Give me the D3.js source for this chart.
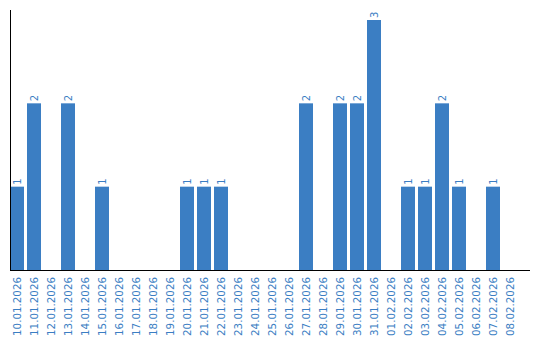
<!DOCTYPE html>
<html><head><meta charset="utf-8">
<script src="https://cdn.jsdelivr.net/npm/d3@7"></script>
<style>body{margin:0;background:#fff}svg{display:block}</style>
</head><body><svg id="c" width="540" height="340"></svg>
<script>
const categories = ["10.01.2026","11.01.2026","12.01.2026","13.01.2026","14.01.2026","15.01.2026","16.01.2026","17.01.2026","18.01.2026","19.01.2026","20.01.2026","21.01.2026","22.01.2026","23.01.2026","24.01.2026","25.01.2026","26.01.2026","27.01.2026","28.01.2026","29.01.2026","30.01.2026","31.01.2026","01.02.2026","02.02.2026","03.02.2026","04.02.2026","05.02.2026","06.02.2026","07.02.2026","08.02.2026"];
const values = [1,2,0,2,0,1,0,0,0,0,1,1,1,0,0,0,0,2,0,2,2,3,0,1,1,2,1,0,1,0];

const svg = d3.select("#c");
const color = "#3b7ec3";
const x = d3.scaleBand().domain(categories).range([10, 517]).paddingInner(3/17).paddingOuter(0);
const y = d3.scaleLinear().domain([0, 3]).range([270, 20]);
const font = "DejaVu Sans, Verdana, sans-serif";

const data = categories.map((c, i) => ({c, v: values[i]}));

svg.selectAll("rect.bar").data(data.filter(d => d.v > 0)).enter().append("rect")
  .attr("class", "bar")
  .attr("x", d => x(d.c)).attr("width", x.bandwidth())
  .attr("y", d => y(d.v)).attr("height", d => y(0) - y(d.v))
  .attr("fill", color);

svg.selectAll("text.val").data(data.filter(d => d.v > 0)).enter().append("text")
  .attr("class", "val")
  .attr("transform", d => `translate(${x(d.c) + x.bandwidth()/2},${y(d.v) - 2}) rotate(-90)`)
  .attr("dy", "0.35em")
  .attr("font-family", font).attr("font-size", 10).attr("fill", color)
  .text(d => d.v);

// x axis
const xAxis = svg.append("g").attr("transform", "translate(0,270)")
  .call(d3.axisBottom(x).tickSize(0).tickPadding(0));
xAxis.select(".domain").remove();
xAxis.selectAll("text")
  .attr("font-family", font).attr("font-size", 10.3).attr("fill", color)
  .attr("text-anchor", "end")
  .attr("transform", "translate(0,7) rotate(-90)")
  .attr("x", 0).attr("y", 0).attr("dy", "0.35em");

svg.append("line").attr("x1", 10).attr("x2", 530).attr("y1", 270.5).attr("y2", 270.5)
  .attr("stroke", "#000").attr("stroke-width", 1);
svg.append("line").attr("x1", 10.5).attr("x2", 10.5).attr("y1", 10).attr("y2", 270)
  .attr("stroke", "#000").attr("stroke-width", 1);
</script></body></html>
